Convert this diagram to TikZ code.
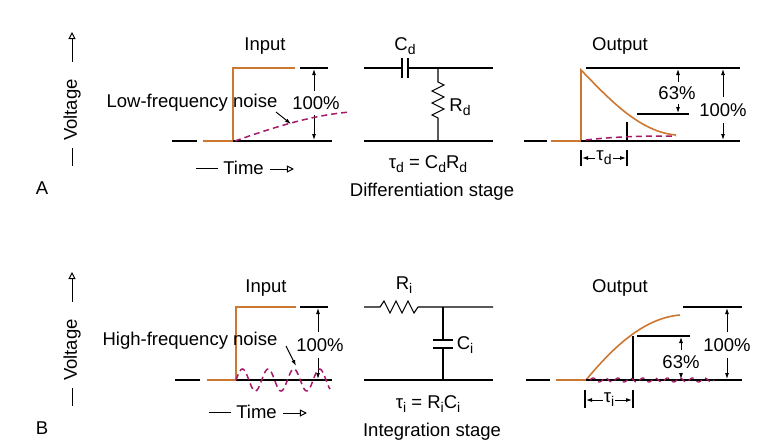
\documentclass[tikz,border=0pt]{standalone}
\usepackage{fontspec}
\setmainfont{Liberation Sans}
\usetikzlibrary{arrows.meta}
\definecolor{org}{RGB}{205,120,50}
\definecolor{mag}{RGB}{165,25,105}
\newcommand{\sbx}[1]{\raisebox{-0.4ex}{\fontsize{14}{14}\selectfont #1}}
\tikzset{
  lbl/.style={font=\fontsize{18.5}{20}\selectfont, inner sep=1pt},
  wire/.style={black, line width=1.1pt},
  sig/.style={org, line width=1.6pt},
  noise/.style={mag, line width=1.5pt, dash pattern=on 6pt off 4pt},
  dim/.style={black, line width=0.9pt, -{Latex[length=6pt,width=4pt]}},
  openarr/.style={line width=1pt, -{Triangle[open,length=7pt,width=7pt]}}
}
\begin{document}
\begin{tikzpicture}[x=1pt,y=-1pt]
\useasboundingbox (0,0) rectangle (774,447);
\foreach \dy/\lt in {0/A,240/B}{
  \node[lbl,rotate=90] (volt\lt) at (72,{110+\dy}) {Voltage};
  \coordinate (vb\lt) at (72,{148+\dy});
  \coordinate (vc\lt) at (72,{166+\dy});
  \draw[line width=1pt] (vb\lt) -- (vc\lt);
  \coordinate (va\lt) at (72,{62+\dy});
  \coordinate (vt\lt) at (72,{32+\dy});
  \draw[openarr] (va\lt) -- (vt\lt);
  \node[lbl] (lab\lt) at (42,{188+\dy}) {\lt};
}
% Input A
\node[lbl] (inA) at (265,46) {Input};
\draw[wire] (172,141) -- (197,141);
\draw[sig] (203,141) -- (233,141) -- (233,68) -- (295,68);
\draw[wire] (300,68) -- (328,68);
\draw[wire] (233,141) -- (332,141);
\node[lbl] (pA) at (316,103) {100\%};
\draw[dim] (314,91) -- (314,69);
\draw[dim] (314,115) -- (314,140);
\draw[noise] (235,141) .. controls (280,125) and (315,115) .. (350,112);
\node[lbl] (lfn) at (192,103) {Low-frequency noise};
\draw[line width=1pt,-{Latex[length=6pt,width=4pt]}] (276,112) -- (291,124);
\node[lbl] (tA) at (230,168) {\rule[0.33em]{22pt}{1pt}\ Time};
\draw[openarr] ([xshift=5pt,yshift=-1pt]tA.east) -- ++(24,0);
% Circuit A
\draw[wire] (364,68) -- (402,68);
\draw[wire] (402,58) -- (402,78);
\draw[wire] (408,58) -- (408,78);
\draw[wire] (408,68) -- (493,68);
\node[lbl] (Cd) at (405,46) {C\sbx{d}};
\draw[wire] (438,68) -- (438,82) -- (444,85) -- (432,91) -- (444,97) -- (432,103) -- (444,109) -- (432,115) -- (438,118) -- (438,141);
\node[lbl] (Rd) at (460,107) {R\sbx{d}};
\draw[wire] (364,141) -- (493,141);
\node[lbl] (td) at (428,164) {τ\sbx{d} = C\sbx{d}R\sbx{d}};
\node[lbl] (ds) at (432,192) {Differentiation stage};
% Output A
\node[lbl] (outA) at (620,46) {Output};
\draw[wire] (524,141) -- (547,141);
\draw[sig] (551,141) -- (581,141) -- (581,70) .. controls (610,100) and (640,132) .. (676,135);
\draw[wire] (586,68) -- (740,68);
\draw[wire] (581,141) -- (740,141);
\draw[wire] (637,114) -- (689,114);
\draw[wire] (627,122) -- (627,141);
\draw[noise] (586,140) .. controls (620,136) and (650,136) .. (676,136);
\node[lbl] (p63A) at (677,93) {63\%};
\draw[dim] (678,82) -- (678,69);
\draw[dim] (678,104) -- (678,113);
\node[lbl] (p100A) at (723,110) {100\%};
\draw[dim] (723,97) -- (723,69);
\draw[dim] (723,123) -- (723,140);
\draw[wire] (581,150) -- (581,166);
\draw[wire] (627,150) -- (627,166);
\node[lbl] (tauA) at (604,158) {τ\sbx{d}};
\draw[dim] (tauA.west) -- (582,158);
\draw[dim] (tauA.east) -- (626,158);
% Input B
\node[lbl] (inB) at (266,288) {Input};
\draw[wire] (175,380) -- (200,380);
\draw[sig] (207,380) -- (236,380) -- (236,307) -- (296,307);
\draw[wire] (300,307) -- (328,307);
\draw[wire] (236,380) -- (332,380);
\node[lbl] (pB) at (320,345) {100\%};
\draw[dim] (318,332) -- (318,308);
\draw[dim] (318,358) -- (318,379);
\draw[noise,domain=0:94,samples=120,smooth] plot ({236+\x},{380-11*sin(\x*14)});
\node[lbl] (hfn) at (190,341) {High-frequency noise};
\draw[line width=1pt,-{Latex[length=6pt,width=4pt]}] (286,346) -- (296,366);
\node[lbl] (tB) at (243,412) {\rule[0.33em]{22pt}{1pt}\ Time};
\draw[openarr] ([xshift=5pt,yshift=-1pt]tB.east) -- ++(24,0);
% Circuit B
\draw[wire] (364,307) -- (380,307) -- (384,301) -- (390,313) -- (396,301) -- (402,313) -- (408,301) -- (414,313) -- (418,307) -- (493,307);
\node[lbl] (Ri) at (404,285) {R\sbx{i}};
\draw[wire] (443,307) -- (443,340);
\draw[wire] (433,340) -- (453,340);
\draw[wire] (433,348) -- (453,348);
\draw[wire] (443,348) -- (443,380);
\node[lbl] (Ci) at (465,345) {C\sbx{i}};
\draw[wire] (364,380) -- (493,380);
\node[lbl] (ti) at (428,404) {τ\sbx{i} = R\sbx{i}C\sbx{i}};
\node[lbl] (is) at (432,432) {Integration stage};
% Output B
\node[lbl] (outB) at (620,288) {Output};
\draw[wire] (526,380) -- (550,380);
\draw[sig] (556,380) -- (586,380) .. controls (615,345) and (645,318) .. (680,315);
\draw[wire] (683,307) -- (742,307);
\draw[wire] (586,380) -- (742,380);
\draw[wire] (637,336) -- (690,336);
\draw[wire] (633,336) -- (633,380);
\draw[noise,line width=1.3pt,domain=0:124,samples=150,smooth] plot ({590+\x},{380-2*sin(\x*29)});
\node[lbl] (p63B) at (681,362) {63\%};
\draw[dim] (681,350) -- (681,337);
\draw[dim] (681,373) -- (681,379);
\node[lbl] (p100B) at (727,345) {100\%};
\draw[dim] (727,332) -- (727,308);
\draw[dim] (727,358) -- (727,379);
\draw[wire] (585,390) -- (585,408);
\draw[wire] (633,390) -- (633,408);
\node[lbl] (tauB) at (609,400) {τ\sbx{i}};
\draw[dim] (tauB.west) -- (586,400);
\draw[dim] (tauB.east) -- (632,400);
\end{tikzpicture}
\end{document}
